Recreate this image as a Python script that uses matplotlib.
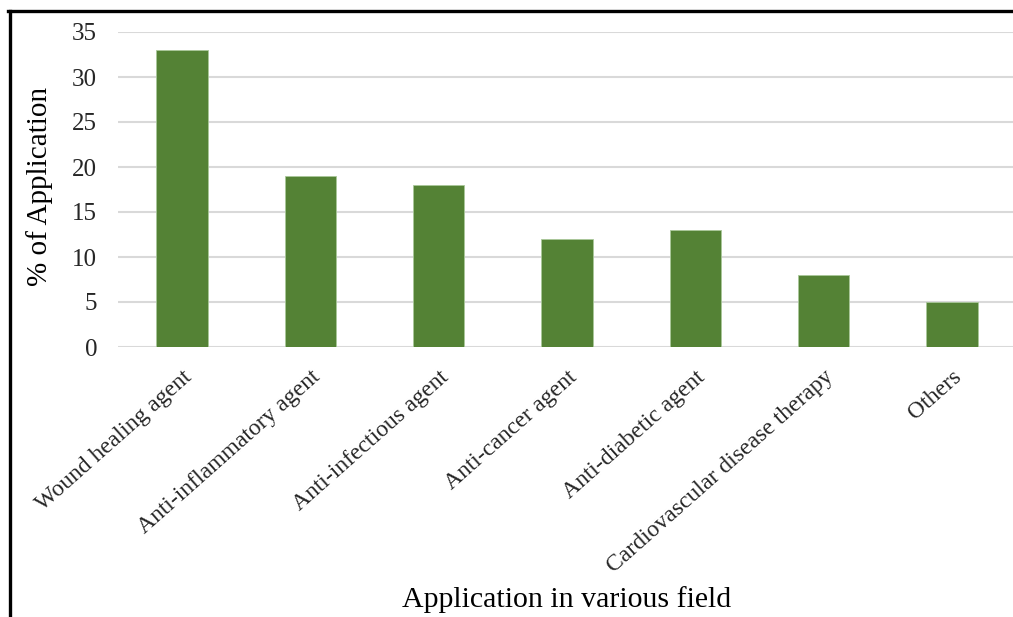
import matplotlib
matplotlib.use("Agg")
import matplotlib.pyplot as plt
from matplotlib.lines import Line2D

categories = [
    "Wound healing agent",
    "Anti-inflammatory agent",
    "Anti-infectious agent",
    "Anti-cancer agent",
    "Anti-diabetic agent",
    "Cardiovascular disease therapy",
    "Others",
]
values = [33, 19, 18, 12, 13, 8, 5]
yticks = [0, 5, 10, 15, 20, 25, 30, 35]

plt.rcParams["font.family"] = ["Liberation Serif", "DejaVu Serif"]

W, H = 1013, 617
fig = plt.figure(figsize=(W / 100, H / 100), dpi=100)
ax = fig.add_axes([118 / W, 1 - 347 / H, (1016 - 118) / W, (347 - 32) / H])

x = list(range(len(categories)))
ax.bar(x, values, width=0.4, color="#548235", edgecolor="#a9c89a", linewidth=0.6, zorder=3)

ax.set_xlim(-0.5, len(categories) - 0.5)
ax.set_ylim(0, 35)
ax.set_yticks(yticks)
ax.set_yticklabels([str(v) for v in yticks], fontsize=18, color="#262626")
ax.yaxis.grid(True, color="#d9d9d9", linewidth=1.5, zorder=0)
ax.set_axisbelow(True)
for s in ax.spines.values():
    s.set_visible(False)
ax.tick_params(axis="y", length=0, pad=15)
ax.tick_params(axis="x", length=0, pad=14)

ax.set_xticks(x)
ax.set_xticklabels(categories, rotation=41.5, ha="right", rotation_mode="anchor",
                   fontsize=17, color="#262626")

fig.text(567 / W, 1 - 600 / H, "Application in various field", ha="center", va="center",
         fontsize=21.5, color="#000000")
fig.text(40 / W, 1 - 186 / H, "% of Application", ha="center", va="center",
         rotation=90, fontsize=21, color="#000000")

# frame around the figure (top and left edges)
fig.add_artist(Line2D([9.5 / W, 9.5 / W], [0, 1 - 11 / H], color="black", linewidth=2.4,
                      transform=fig.transFigure))
fig.add_artist(Line2D([8.3 / W, 1], [1 - 11 / H, 1 - 11 / H], color="black", linewidth=2.4,
                      transform=fig.transFigure))

fig.savefig("out.png", dpi=100, facecolor="white")
